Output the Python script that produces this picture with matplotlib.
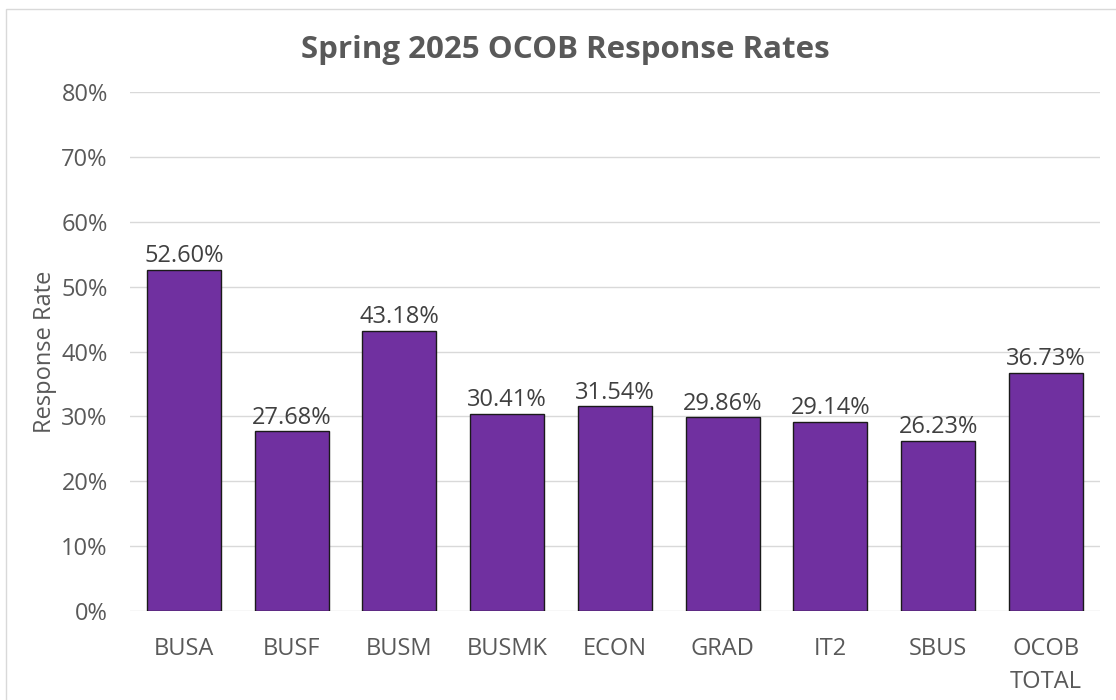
import matplotlib
matplotlib.use('Agg')
import matplotlib.pyplot as plt
from matplotlib.patches import Rectangle
from matplotlib.ticker import PercentFormatter

# response rates by department (percent)
departments = ['BUSA', 'BUSF', 'BUSM', 'BUSMK', 'ECON', 'GRAD', 'IT2', 'SBUS', 'OCOB\nTOTAL']
rates = [52.60, 27.68, 43.18, 30.41, 31.54, 29.86, 29.14, 26.23, 36.73]
y_ticks = [0, 10, 20, 30, 40, 50, 60, 70, 80]

PURPLE = '#7030A0'
TEXT = '#595959'
LABEL = '#404040'
GRID = '#D9D9D9'

plt.rcParams['font.family'] = ['Open Sans', 'DejaVu Sans']

fig = plt.figure(figsize=(11.16, 7.0), dpi=100)
ax = fig.add_axes([0.1165, 0.1271, 0.869, 0.7414])

x = range(len(departments))
bars = ax.bar(x, rates, width=0.686, color=PURPLE, edgecolor='#1a1a1a',
              linewidth=1.0, zorder=3)

for b, v in zip(bars, rates):
    ax.text(b.get_x() + b.get_width() / 2, v + 0.25, f'{v:.2f}%',
            ha='center', va='bottom', fontsize=17, color=LABEL)

ax.set_xlim(-0.5, len(departments) - 0.5)
ax.set_ylim(0, 80)
ax.set_yticks(y_ticks)
ax.yaxis.set_major_formatter(PercentFormatter(decimals=0))
ax.set_xticks(list(x))
ax.set_xticklabels(departments, fontsize=17, color=TEXT, linespacing=1.45)
ax.tick_params(axis='y', labelsize=17, labelcolor=TEXT, length=0, pad=16)
ax.tick_params(axis='x', length=0, pad=19)
ax.grid(axis='y', color=GRID, linewidth=1.0, zorder=0)
for s in ax.spines.values():
    s.set_visible(False)

ax.set_ylabel('Response Rate', fontsize=17, color=TEXT, labelpad=3)

fig.text(0.507, 0.928, 'Spring 2025 OCOB Response Rates', ha='center', va='center',
         fontsize=22.5, fontweight='bold', color=TEXT)

# chart-area border
fig.patches.append(Rectangle((6 / 1116, -0.05), 1.2, 1.037,
                             transform=fig.transFigure, fill=False,
                             edgecolor=GRID, linewidth=1.0))

fig.savefig('out.png', dpi=100)
